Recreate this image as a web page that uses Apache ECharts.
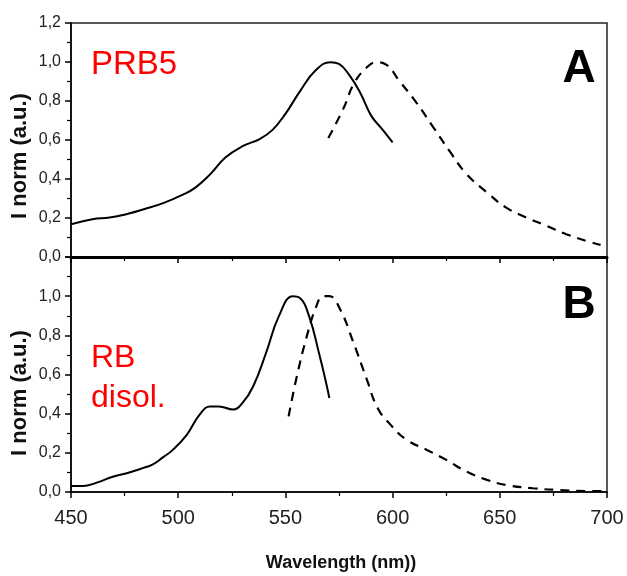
<!DOCTYPE html>
<html>
<head>
<meta charset="utf-8">
<script src="https://cdn.jsdelivr.net/npm/echarts@6/dist/echarts.min.js"></script>
<style>html,body{margin:0;padding:0;background:#fff}#c{width:627px;height:576px}</style>
</head>
<body>
<div id="c"></div>
<script>
// Panel A (PRB5)
const aSolidNm = [450, 460, 468, 477, 484, 493, 502, 508, 515, 522, 530, 538, 544, 550, 557, 564, 571, 575, 580, 585, 590, 595, 600];
const aSolidVal = [0.168, 0.194, 0.202, 0.223, 0.245, 0.276, 0.319, 0.356, 0.425, 0.51, 0.568, 0.605, 0.652, 0.734, 0.853, 0.956, 0.999, 0.99, 0.93, 0.84, 0.725, 0.657, 0.588];
const aDashNm = [570, 577, 582, 588, 592.5, 597, 603, 611, 619, 627, 634.5, 644, 653, 662.5, 672, 681, 690.5, 697];
const aDashVal = [0.61, 0.76, 0.89, 0.973, 0.999, 0.987, 0.905, 0.793, 0.665, 0.536, 0.425, 0.331, 0.253, 0.202, 0.159, 0.117, 0.082, 0.062];
// Panel B (RB disol.)
const bSolidNm = [450, 455.5, 462, 469.5, 476, 483.5, 488, 493, 497.5, 504, 510, 515, 519, 525.5, 530, 535, 541, 547, 553.5, 556.5, 561, 566, 569, 570.5];
const bSolidVal = [0.031, 0.031, 0.048, 0.078, 0.096, 0.122, 0.14, 0.178, 0.215, 0.292, 0.395, 0.437, 0.437, 0.421, 0.455, 0.54, 0.711, 0.899, 1.0, 0.993, 0.899, 0.694, 0.557, 0.48];
const bDashNm = [551.5, 555, 560, 564.5, 567.5, 570.5, 575.5, 581.5, 588, 593, 599, 606.5, 616, 625, 634.5, 644, 653, 665.5, 678, 690.5, 700];
const bDashVal = [0.386, 0.574, 0.796, 0.95, 1.0, 1.0, 0.933, 0.77, 0.574, 0.429, 0.344, 0.267, 0.215, 0.164, 0.104, 0.062, 0.036, 0.019, 0.01, 0.005, 0.005];
// Axes
const xMin = 450, xMax = 700, xStep = 50;
const yMin = 0, yMax = 1.2, yStep = 0.2;
const xTitle = 'Wavelength (nm))';
const yTitle = 'I norm (a.u.)';
const panelLabels = ['PRB5', 'RB\ndisol.'];
const panelLetters = ['A', 'B'];

const zip = (xs, ys) => xs.map((x, i) => [x, ys[i]]);
const fmt = v => v.toFixed(1).replace('.', ',');

function xAx(gi, showLabels, lw) {
  return {
    type: 'value', gridIndex: gi, min: xMin, max: xMax, interval: xStep,
    axisLine: { show: true, onZero: false, lineStyle: { color: '#000', width: lw } },
    axisTick: { show: true, inside: false, length: 6, lineStyle: { color: '#000', width: 1.5 } },
    minorTick: { show: true, splitNumber: 2, length: 4, lineStyle: { color: '#000', width: 1.2 } },
    splitLine: { show: false },
    axisLabel: { show: showLabels, margin: 16, color: '#222', fontSize: 20, fontFamily: 'Liberation Sans, Arial' }
  };
}
function yAx(gi, hideTop) {
  return {
    type: 'value', gridIndex: gi, min: yMin, max: yMax, interval: yStep,
    axisLine: { show: true, onZero: false, lineStyle: { color: '#000', width: 1.5 } },
    axisTick: { show: true, inside: false, length: 6, lineStyle: { color: '#000', width: 1.5 } },
    minorTick: { show: true, splitNumber: 2, length: 4, lineStyle: { color: '#000', width: 1.2 } },
    splitLine: { show: false },
    axisLabel: {
      margin: 10, color: '#222', fontSize: 16, fontFamily: 'Liberation Sans, Arial',
      formatter: v => (hideTop && Math.abs(v - yMax) < 1e-6) ? '' : fmt(v)
    }
  };
}
function line(data, gi, dashed) {
  return {
    type: 'line', xAxisIndex: gi, yAxisIndex: gi, data: data, smooth: 0.45,
    showSymbol: false, symbol: 'none', silent: true,
    lineStyle: { color: '#000', width: dashed ? 2.2 : 2, type: dashed ? [9, 7] : 'solid' }
  };
}

const chart = echarts.init(document.getElementById('c'), null, { renderer: 'canvas' });
chart.setOption({
  animation: false,
  backgroundColor: '#fff',
  grid: [
    { left: 71, top: 23, right: 20, height: 234, show: true, borderColor: '#222', borderWidth: 1.5, backgroundColor: 'transparent' },
    { left: 71, top: 257, right: 20, height: 235, show: true, borderColor: '#222', borderWidth: 1.5, backgroundColor: 'transparent' }
  ],
  xAxis: [xAx(0, false, 3), xAx(1, true, 1.5)],
  yAxis: [yAx(0, false), yAx(1, true)],
  series: [
    line(zip(aSolidNm, aSolidVal), 0, false),
    line(zip(aDashNm, aDashVal), 0, true),
    line(zip(bSolidNm, bSolidVal), 1, false),
    line(zip(bDashNm, bDashVal), 1, true)
  ],
  graphic: [
    { type: 'text', x: 20, y: 156, rotation: Math.PI / 2, style: { text: yTitle, align: 'center', verticalAlign: 'middle', font: 'bold 22px "Liberation Sans", Arial', fill: '#111' } },
    { type: 'text', x: 20, y: 393, rotation: Math.PI / 2, style: { text: yTitle, align: 'center', verticalAlign: 'middle', font: 'bold 22px "Liberation Sans", Arial', fill: '#111' } },
    { type: 'text', x: 341, y: 563, style: { text: xTitle, align: 'center', verticalAlign: 'middle', font: 'bold 18px "Liberation Sans", Arial', fill: '#111' } },
    { type: 'text', x: 91, y: 65, style: { text: panelLabels[0], align: 'left', verticalAlign: 'middle', font: '33px "Liberation Sans", Arial', fill: '#ff0000' } },
    { type: 'text', x: 91, y: 378, style: { text: panelLabels[1], align: 'left', verticalAlign: 'middle', font: '32px "Liberation Sans", Arial', fill: '#ff0000', lineHeight: 40 } },
    { type: 'text', x: 579, y: 69, style: { text: panelLetters[0], align: 'center', verticalAlign: 'middle', font: 'bold 46px "Liberation Sans", Arial', fill: '#000' } },
    { type: 'text', x: 579, y: 305, style: { text: panelLetters[1], align: 'center', verticalAlign: 'middle', font: 'bold 46px "Liberation Sans", Arial', fill: '#000' } }
  ]
});
</script>
</body>
</html>
